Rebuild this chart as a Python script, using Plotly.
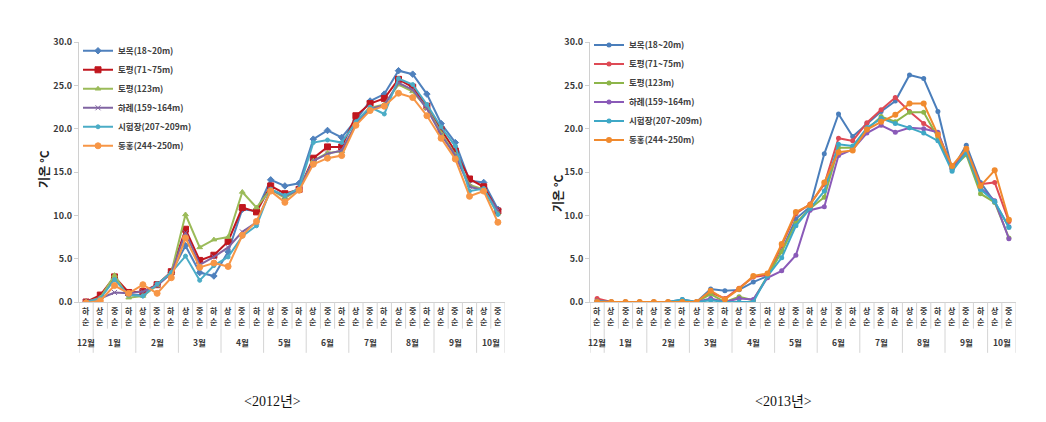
import plotly.graph_objects as go

# ---------------- data ----------------
period_labels = ["하"] + ["상", "중", "하"] * 9 + ["상", "중"]
period_suffix = "순"
month_names = ["12월", "1월", "2월", "3월", "4월", "5월", "6월", "7월", "8월", "9월", "10월"]
month_sizes = [1, 3, 3, 3, 3, 3, 3, 3, 3, 3, 2]

series_names = ["보목(18~20m)", "토평(71~75m)", "토평(123m)", "하례(159~164m)",
                "시험장(207~209m)", "동홍(244~250m)"]

bomok_2012 = [0.0, 0.5, 2.7, 0.8, 0.8, 2.0, 3.4, 6.5, 3.4, 3.0, 5.8, 10.7, 10.5, 14.1, 13.4,
              13.7, 18.8, 19.8, 19.0, 21.0, 23.2, 24.0, 26.7, 26.3, 24.0, 20.6, 18.4, 14.0, 13.8, 10.7]
topyeong1_2012 = [0.0, 0.8, 2.9, 1.1, 1.2, 2.0, 3.5, 8.4, 4.8, 5.4, 7.0, 10.9, 10.4, 13.4, 12.5,
                  13.0, 16.6, 17.9, 17.9, 21.5, 22.9, 23.5, 25.7, 24.8, 22.6, 19.9, 17.4, 14.2, 13.3, 10.5]
topyeong2_2012 = [0.0, 0.5, 3.1, 0.5, 0.7, 1.9, 3.4, 10.1, 6.3, 7.2, 7.5, 12.7, 10.9, 13.0, 12.0,
                  13.0, 16.3, 17.2, 17.4, 20.6, 22.4, 22.8, 25.1, 24.3, 22.4, 19.5, 17.0, 13.5, 13.0, 10.2]
harye_2012 = [0.0, 0.4, 1.1, 1.0, 1.2, 1.9, 3.3, 8.0, 4.3, 5.2, 6.3, 8.1, 9.2, 13.0, 12.2,
              13.0, 16.3, 17.1, 17.5, 20.5, 22.3, 22.7, 25.3, 24.5, 22.3, 19.3, 16.9, 13.3, 12.9, 10.6]
station_2012 = [0.0, 0.4, 2.6, 0.8, 0.7, 2.1, 3.4, 5.3, 2.5, 4.2, 5.2, 7.6, 8.8, 13.0, 12.3,
                13.1, 18.4, 18.7, 18.4, 20.8, 22.5, 21.7, 25.8, 25.1, 22.8, 20.2, 18.0, 12.8, 13.1, 10.1]
donghong_2012 = [-0.1, 0.15, 1.9, 1.0, 2.0, 1.0, 2.8, 7.4, 4.0, 4.5, 4.1, 7.7, 9.3, 12.8, 11.5,
                 12.9, 15.9, 16.6, 16.9, 20.4, 22.1, 22.6, 24.1, 23.6, 21.5, 18.9, 16.5, 12.2, 12.8, 9.2]

bomok_2013 = [0.2, 0.0, 0.0, 0.0, 0.0, 0.0, 0.3, 0.0, 1.5, 1.3, 1.4, 2.3, 3.0, 5.9, 9.6,
              11.0, 17.1, 21.7, 19.1, 20.6, 22.0, 23.2, 26.2, 25.8, 22.0, 15.3, 18.1, 13.8, 11.5, 8.7]
topyeong1_2013 = [0.4, 0.0, 0.0, 0.0, 0.0, 0.0, 0.1, 0.0, 1.1, 0.4, 1.6, 2.9, 3.1, 6.5, 10.2,
                  11.3, 13.6, 18.9, 18.6, 20.7, 22.2, 23.6, 22.0, 20.6, 19.5, 15.5, 17.6, 13.6, 13.8, 9.3]
topyeong2_2013 = [0.1, 0.0, 0.0, 0.0, 0.0, 0.0, 0.0, 0.0, 0.9, 0.0, 0.6, 0.2, 3.0, 5.8, 9.1,
                  10.8, 12.1, 17.8, 17.8, 19.9, 21.4, 20.8, 21.9, 21.9, 19.0, 15.4, 17.0, 12.5, 11.5, 7.4]
harye_2013 = [0.1, 0.0, 0.0, 0.0, 0.0, 0.0, 0.0, 0.0, 0.4, 0.0, 0.4, 0.3, 2.8, 3.6, 5.4,
              10.6, 11.0, 16.9, 17.6, 19.5, 20.4, 19.6, 20.1, 20.0, 19.6, 15.4, 17.3, 13.2, 11.7, 7.3]
station_2013 = [0.1, 0.0, 0.0, 0.0, 0.0, 0.0, 0.3, 0.0, 0.2, 0.0, 0.0, 0.0, 3.0, 5.1, 8.8,
                10.8, 12.8, 18.2, 18.0, 20.1, 21.2, 20.6, 20.1, 19.5, 18.6, 15.1, 17.3, 13.0, 11.6, 8.6]
donghong_2013 = [0.0, 0.0, 0.0, 0.0, 0.0, 0.0, 0.0, 0.0, 1.3, 0.3, 1.5, 3.0, 3.3, 6.7, 10.4,
                 11.2, 13.8, 17.3, 17.5, 19.9, 20.8, 21.6, 22.9, 22.9, 19.3, 15.7, 17.7, 13.4, 15.2, 9.5]

y_ticks = [0, 5, 10, 15, 20, 25, 30]
y_title = "기온 °C"
captions = ["<2012년>", "<2013년>"]

# ---------------- layout helpers ----------------
VW, VH = 1046, 422          # browser window
OFF = 8                     # default page body margin
W, H = VW - 2 * OFF, VH - 2 * OFF   # figure size so the page fits the window exactly
FONT = "Noto Sans CJK KR"
TXT = "#3A3A3A"


def px_x(p):
    return (p - OFF) / W


def px_y(p):
    return 1 - (p - OFF) / H


x_vals = list(range(len(period_labels)))

styles_2012 = [
    dict(color="#4F81BD", symbol="diamond", size=5),
    dict(color="#C0161E", symbol="square", size=6),
    dict(color="#9BBB59", symbol="triangle-up", size=5),
    dict(color="#8064A2", symbol="x-thin", size=5),
    dict(color="#4BACC6", symbol="circle", size=4),
    dict(color="#F79646", symbol="circle", size=6),
]
styles_2013 = [
    dict(color="#4A7EBB", symbol="circle", size=5),
    dict(color="#DE4A55", symbol="circle", size=5),
    dict(color="#8DB54A", symbol="circle", size=5),
    dict(color="#8A5AB8", symbol="circle", size=5),
    dict(color="#3EA8C6", symbol="circle", size=5),
    dict(color="#F08A2E", symbol="circle", size=6),
]

data_2012 = [bomok_2012, topyeong1_2012, topyeong2_2012, harye_2012, station_2012, donghong_2012]
data_2013 = [bomok_2013, topyeong1_2013, topyeong2_2013, harye_2013, station_2013, donghong_2013]

fig = go.Figure()

for i, (name, ys, st) in enumerate(zip(series_names, data_2012, styles_2012)):
    fig.add_trace(go.Scatter(
        x=x_vals, y=ys, name=name, mode="lines+markers",
        line=dict(color=st["color"], width=2),
        marker=dict(color=st["color"], symbol=st["symbol"], size=st["size"],
                    line=dict(color=st["color"], width=1)),
        xaxis="x", yaxis="y", legend="legend", legendgroup="a%d" % i,
    ))

for i, (name, ys, st) in enumerate(zip(series_names, data_2013, styles_2013)):
    fig.add_trace(go.Scatter(
        x=x_vals, y=ys, name=name, mode="lines+markers",
        line=dict(color=st["color"], width=2),
        marker=dict(color=st["color"], symbol=st["symbol"], size=st["size"]),
        xaxis="x2", yaxis="y2", legend="legend2", legendgroup="b%d" % i,
    ))

y_bottom = px_y(304.5)
y_top = px_y(36)
dom1 = [px_x(79), px_x(505)]
dom2 = [px_x(590), px_x(1016)]

xaxis_common = dict(
    range=[-0.5, len(period_labels) - 0.5], tickmode="array", tickvals=x_vals,
    showticklabels=False, ticks="", showgrid=False, zeroline=False,
    showline=True, linecolor="#D0D0D0", linewidth=1, fixedrange=True,
)
yaxis_common = dict(
    range=[0, 30], tickmode="array", tickvals=y_ticks,
    ticktext=["%.1f" % v for v in y_ticks], showgrid=False, zeroline=False,
    showline=True, linecolor="#D0D0D0", linewidth=1, ticks="outside",
    ticklen=4, tickcolor="#D0D0D0",
    tickfont=dict(family=FONT, size=9, color=TXT, weight="bold"), domain=[y_bottom, y_top],
)

legend_common = dict(
    bgcolor="rgba(0,0,0,0)", font=dict(family=FONT, size=8.5, color="#404040", weight="bold"),
    xanchor="left", yanchor="top", itemwidth=30, traceorder="normal",
)

fig.update_layout(
    width=W, height=H, margin=dict(l=0, r=0, t=0, b=0),
    paper_bgcolor="white", plot_bgcolor="white",
    xaxis=dict(xaxis_common, domain=dom1, anchor="y"),
    yaxis=dict(yaxis_common, anchor="x"),
    xaxis2=dict(xaxis_common, domain=dom2, anchor="y2"),
    yaxis2=dict(yaxis_common, anchor="x2"),
    legend=dict(legend_common, x=px_x(78), y=px_y(30), tracegroupgap=10),
    legend2=dict(legend_common, x=px_x(589), y=px_y(24), tracegroupgap=9.5),
    showlegend=True,
)

shapes = []
annotations = []
for xa in ("x", "x2"):
    # two-character period labels (e.g. 하/순), stacked
    for k, lab in zip(x_vals, period_labels):
        annotations.append(dict(xref=xa, yref="paper", x=k, y=px_y(313), text=lab,
                                showarrow=False, xanchor="center", yanchor="middle",
                                font=dict(family=FONT, size=8, color=TXT, weight="bold")))
        annotations.append(dict(xref=xa, yref="paper", x=k, y=px_y(325), text=period_suffix,
                                showarrow=False, xanchor="center", yanchor="middle",
                                font=dict(family=FONT, size=8, color=TXT, weight="bold")))
    # separators between periods
    for k in range(len(period_labels) + 1):
        shapes.append(dict(type="line", xref=xa, yref="paper", x0=k - 0.5, x1=k - 0.5,
                           y0=y_bottom, y1=px_y(332), line=dict(color="#D4D4D4", width=1)))
    # month labels and month separators
    pos = -0.5
    bounds = [pos]
    for name, size in zip(month_names, month_sizes):
        annotations.append(dict(xref=xa, yref="paper", x=pos + size / 2, y=px_y(346),
                                text=name, showarrow=False, xanchor="center", yanchor="middle",
                                font=dict(family=FONT, size=8.5, color=TXT, weight="bold")))
        pos += size
        bounds.append(pos)
    for b in bounds:
        shapes.append(dict(type="line", xref=xa, yref="paper", x0=b, x1=b,
                           y0=px_y(332), y1=px_y(357), line=dict(color="#D4D4D4", width=1)))

# y axis titles
for xc, yc in ((44, 167), (557, 192)):
    annotations.append(dict(xref="paper", yref="paper", x=px_x(xc), y=px_y(yc), text=y_title,
                            textangle=-90, showarrow=False, xanchor="center", yanchor="middle",
                            font=dict(family=FONT, size=12, color="#222222", weight="bold")))
# captions
for xc, cap in zip((272, 783), captions):
    annotations.append(dict(xref="paper", yref="paper", x=px_x(xc), y=px_y(407), text=cap,
                            showarrow=False, xanchor="center", yanchor="middle",
                            font=dict(family="Liberation Serif, Noto Sans CJK KR", size=14,
                                      color="#111111")))

fig.update_layout(shapes=shapes, annotations=annotations)

fig.write_html("out.html")
